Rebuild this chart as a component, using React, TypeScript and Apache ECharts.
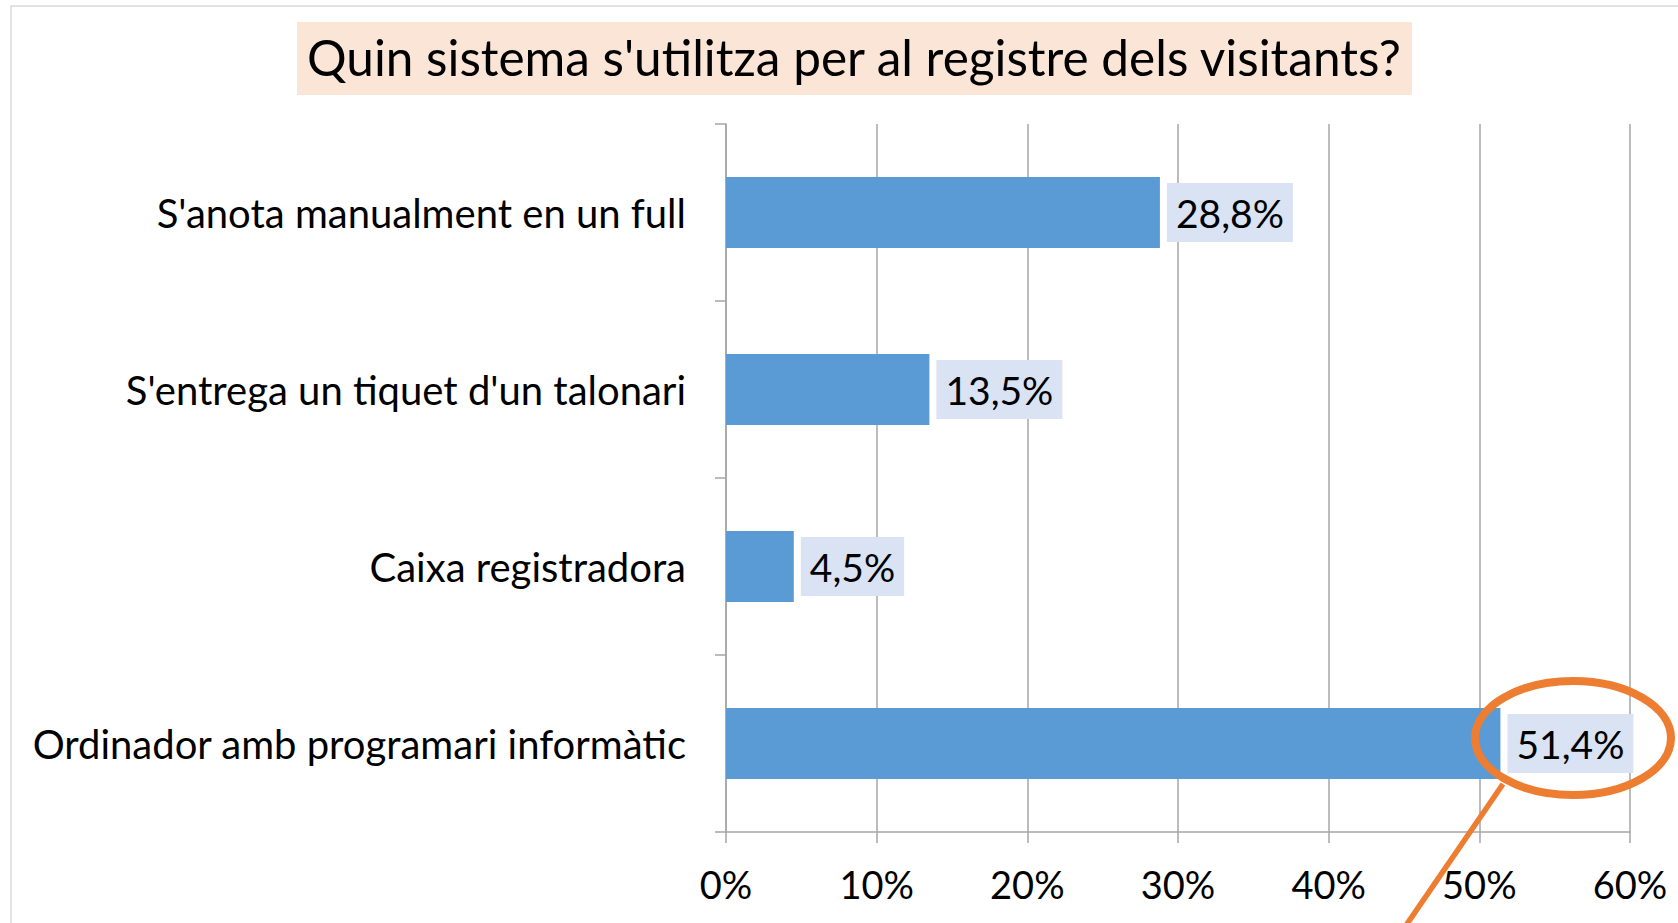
import React, { useEffect, useRef } from "react";
import * as echarts from "echarts";

const categories = [
  "S'anota manualment en un full",
  "S'entrega un tiquet d'un talonari",
  "Caixa registradora",
  "Ordinador amb programari informàtic",
];
const values = [28.8, 13.5, 4.5, 51.4];
const xTicks = { min: 0, max: 60, interval: 10 };
const titleText = "Quin sistema s'utilitza per al registre dels visitants?";

const FONT = "Lato";

export default function App() {
  const ref = useRef<HTMLDivElement>(null);
  useEffect(() => {
    const chart = echarts.init(ref.current!, null, { renderer: "svg" });
    chart.setOption({
      animation: false,
      backgroundColor: "#ffffff",
      grid: { left: 726, right: 48, top: 124, bottom: 91, containLabel: false },
      xAxis: {
        type: "value",
        min: xTicks.min,
        max: xTicks.max,
        interval: xTicks.interval,
        axisLine: { show: true, lineStyle: { color: "#A6A6A6", width: 1.5 } },
        axisTick: { show: true, length: 11, lineStyle: { color: "#A6A6A6", width: 1.5 } },
        splitLine: { show: true, lineStyle: { color: "#A6A6A6", width: 1.5 } },
        axisLabel: {
          formatter: "{value}%",
          fontFamily: FONT,
          fontSize: 38,
          color: "#000",
          margin: 33,
        },
      },
      yAxis: {
        type: "category",
        inverse: true,
        data: categories,
        axisLine: { show: true, lineStyle: { color: "#A6A6A6", width: 1.5 } },
        axisTick: { show: true, length: 11, lineStyle: { color: "#A6A6A6", width: 1.5 } },
        axisLabel: {
          fontFamily: FONT,
          fontSize: 40,
          color: "#000",
          margin: 40,
        },
      },
      series: [
        {
          type: "bar",
          data: values,
          barWidth: "40%",
          itemStyle: { color: "#5B9BD5" },
          label: {
            show: true,
            position: "right",
            distance: 7,
            formatter: (p: any) => `${Number(p.value).toFixed(1).replace(".", ",")}%`,
            fontFamily: FONT,
            fontSize: 39,
            color: "#000",
            backgroundColor: "#DAE3F3",
            padding: [10, 9, 10, 9],
          },
        },
      ],
      graphic: [
        {
          type: "rect",
          shape: { x: 11, y: 6, width: 1700, height: 1000 },
          style: { fill: "none", stroke: "#D9D9D9", lineWidth: 1.5 },
          silent: true,
          z: -10,
        },
        {
          type: "rect",
          shape: { x: 297, y: 22, width: 1115, height: 73 },
          style: { fill: "#FBE5D6" },
          z: 1,
        },
        {
          type: "text",
          x: 854,
          y: 57,
          style: {
            text: titleText,
            fontFamily: FONT,
            fontSize: 49.5,
            fill: "#000",
            align: "center",
            verticalAlign: "middle",
          },
          z: 2,
        },
        {
          type: "ellipse",
          shape: { cx: 1573, cy: 738, rx: 98, ry: 57 },
          style: { fill: "none", stroke: "#ED7D31", lineWidth: 8 },
          z: 20,
        },
        {
          type: "line",
          shape: { x1: 1503, y1: 784, x2: 1396, y2: 940 },
          style: { stroke: "#ED7D31", lineWidth: 5.5 },
          z: 20,
        },
      ],
    });
    return () => chart.dispose();
  }, []);
  return (
    <div
      ref={ref}
      style={{ position: "absolute", left: 0, top: 0, width: 1678, height: 923 }}
    />
  );
}
